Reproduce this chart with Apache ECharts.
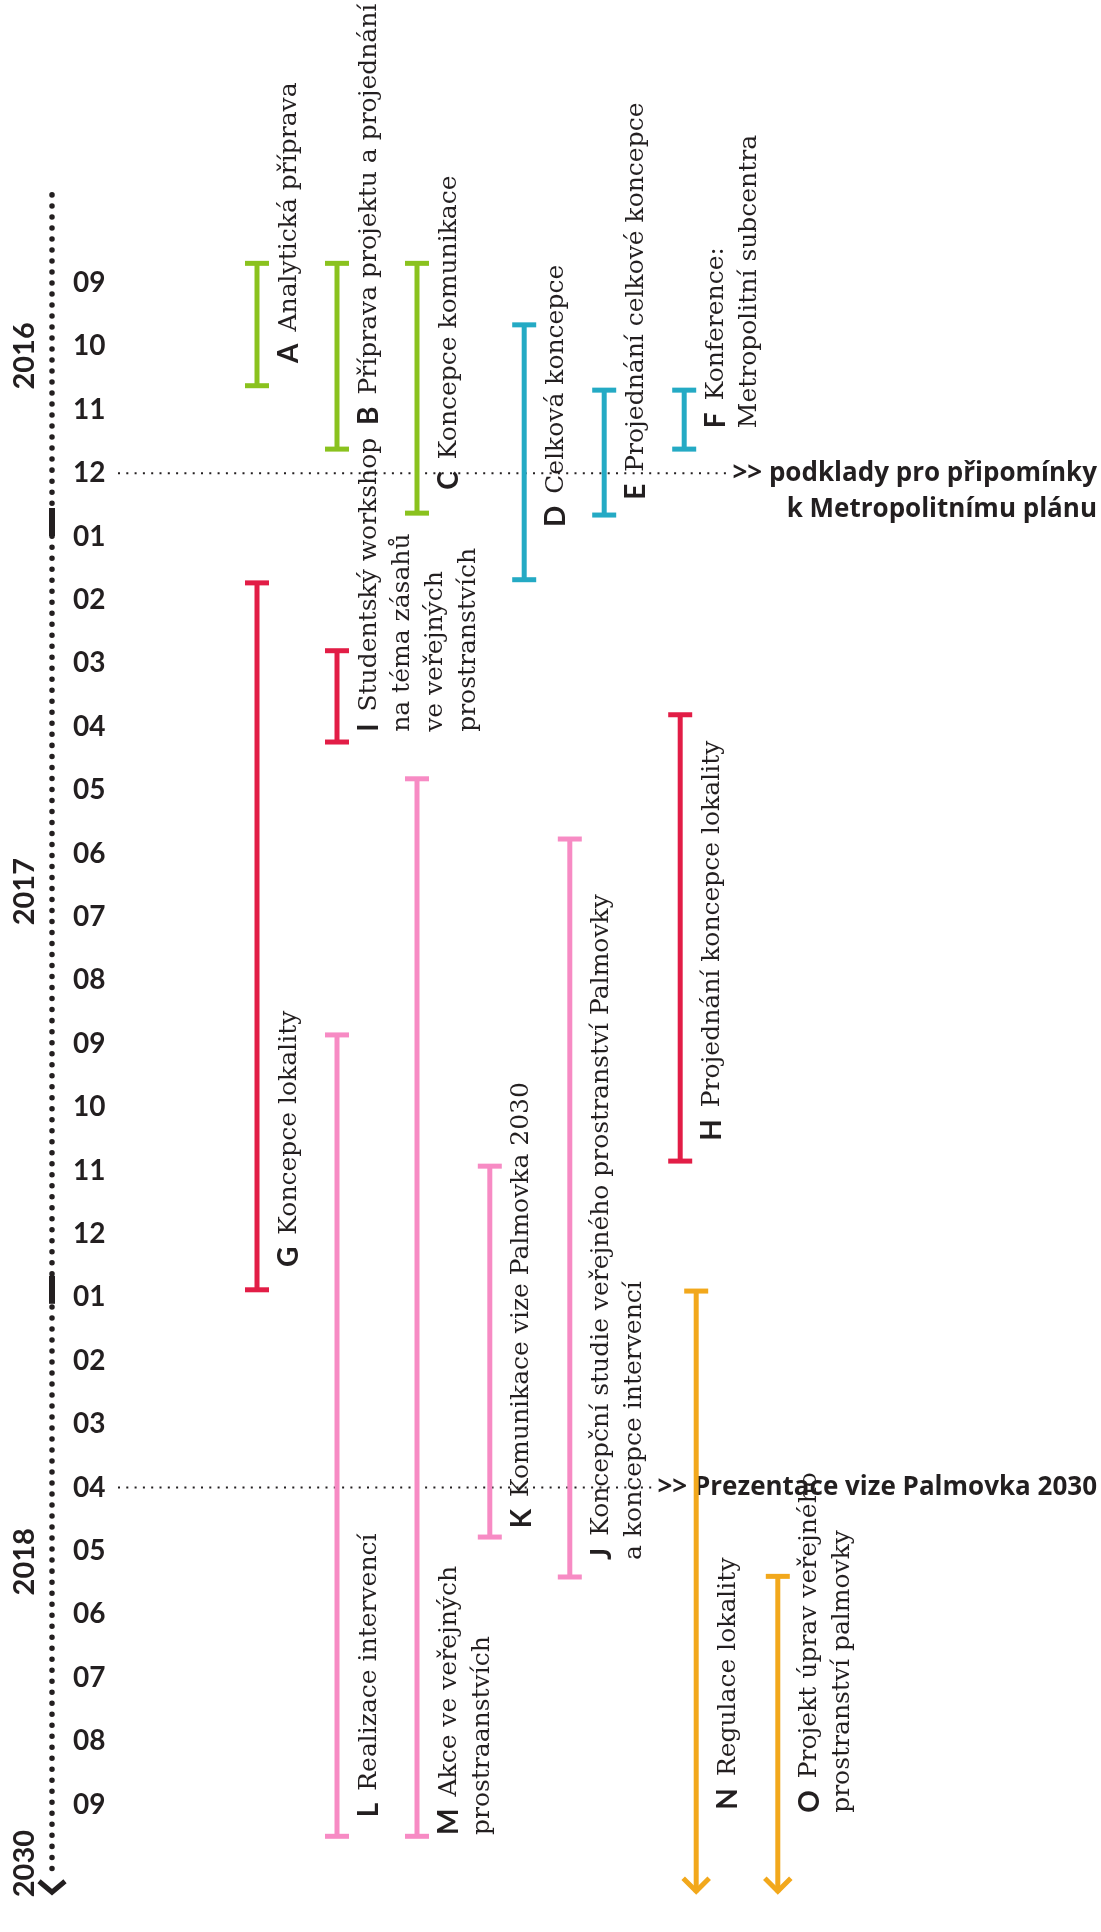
<!DOCTYPE html>
<html><head><meta charset="utf-8">
<script src="https://cdn.jsdelivr.net/npm/echarts@6/dist/echarts.min.js"></script>
<style>html,body{margin:0;padding:0;background:#fff}#c{width:1101px;height:1932px}</style>
</head><body><div id="c"></div>
<script>
// ---------- DATA ----------
const monthLabels = ['09','10','11','12','01','02','03','04','05','06','07','08','09','10','11','12','01','02','03','04','05','06','07','08','09'];
const yearLabels = ['2016','2017','2018','2030'];
const yearLabelPos = [1.15, 9.6, 20.17, 24.93];
const yearBreaks = [3.77, 15.88];
const timelineRange = [-1.39, 25.43];

const barIds    = ['A','B','C','D','E','F','G','H','I','J','K','L','M','N','O'];
const barLanes  = [0, 1, 2, 3.34, 4.34, 5.34, 0, 5.29, 1, 3.91, 2.91, 1, 2, 5.49, 6.51];
const barStart  = [-0.31, -0.31, -0.31, 0.66, 1.69, 1.69, 4.73, 6.81, 5.80, 8.77, 13.93, 11.86, 7.82, 15.90, 20.40];
const barEnd    = [1.62, 2.62, 3.63, 4.68, 3.66, 2.62, 15.88, 13.85, 7.24, 20.41, 19.78, 24.50, 24.50, 25.43, 25.43];
const barGroups = ['green','green','green','teal','teal','teal','red','red','red','pink','pink','pink','pink','orange','orange'];
const barArrow  = [0,0,0,0,0,0,0,0,0,0,0,0,0,1,1];
const labelStart = [1.26, 2.24, 3.26, 3.85, 3.42, 2.29, 15.52, 13.53, 7.08, 20.14, 19.64, 24.20, 24.48, 24.08, 24.13];
const barLabels = [
  ['Analytická příprava'],
  ['Příprava projektu a projednání'],
  ['Koncepce komunikace'],
  ['Celková koncepce'],
  ['Projednání celkové koncepce'],
  ['Konference:', 'Metropolitní subcentra'],
  ['Koncepce lokality'],
  ['Projednání koncepce lokality'],
  ['Studentský workshop', 'na téma zásahů', 've veřejných', 'prostranstvích'],
  ['Koncepční studie veřejného prostranství Palmovky', 'a koncepce intervencí'],
  ['Komunikace vize Palmovka 2030'],
  ['Realizace intervencí'],
  ['Akce ve veřejných', 'prostraanstvích'],
  ['Regulace lokality'],
  ['Projekt úprav veřejného', 'prostranství palmovky']
];
const milestoneMonths = [3, 19];
const milestoneTexts = [
  ['>> podklady pro připomínky', 'k Metropolitnímu plánu'],
  ['>> Prezentace vize Palmovka 2030']
];

// ---------- STYLE / LAYOUT ----------
const COLORS = {green:'#8AC21E', teal:'#24AAC4', red:'#E21D46', pink:'#F78BC4', orange:'#F2A81C'};
const INK = '#231f20';
const SANS = 'Lato, "Open Sans", sans-serif';
const SANS_WIDE = '"Open Sans", Lato, sans-serif';
const SERIF = '"DejaVu Serif", serif';
const LANE0_X = 257, LANE_W = 80, W = 1101;
const Y0 = 283, MONTH_H = 63.4;
const TIMELINE_X = 52, YEAR_X = 25;
const MS_LINE_X0 = 118, MS_LINE_X1 = [732, 652], MS_TEXT_RIGHT = 1097;
const LABEL_LH = 33, LABEL_DX = 32;

const chart = echarts.init(document.getElementById('c'), null, {renderer: 'canvas'});

function renderBar(params, api) {
  const i = params.dataIndex;
  const p1 = api.coord([api.value(0), api.value(1)]);
  const p2 = api.coord([api.value(0), api.value(2)]);
  const color = COLORS[barGroups[i]];
  const st = {stroke: color, lineWidth: 5, fill: null};
  const ch = [
    {type: 'line', shape: {x1: p1[0], y1: p1[1], x2: p2[0], y2: p2[1] - (barArrow[i] ? 3 : 0)}, style: st},
    {type: 'line', shape: {x1: p1[0] - 12, y1: p1[1], x2: p1[0] + 12, y2: p1[1]}, style: st}
  ];
  if (barArrow[i]) {
    ch.push({type: 'polyline', shape: {points: [[p2[0] - 13, p2[1] - 17], [p2[0], p2[1] - 4], [p2[0] + 13, p2[1] - 17]]},
      style: {stroke: color, lineWidth: 5, fill: null, lineJoin: 'miter'}});
  } else {
    ch.push({type: 'line', shape: {x1: p2[0] - 12, y1: p2[1], x2: p2[0] + 12, y2: p2[1]}, style: st});
  }
  return {type: 'group', children: ch};
}

function renderLabel(params, api) {
  const i = params.dataIndex;
  const p = api.coord([api.value(0), api.value(1)]);
  const lines = barLabels[i];
  let text = '{b|' + barIds[i] + '}{r|' + lines[0] + '}';
  for (let k = 1; k < lines.length; k++) text += '\n{r|' + lines[k] + '}';
  return {
    type: 'text', x: p[0] + LABEL_DX - LABEL_LH / 2, y: p[1], rotation: Math.PI / 2,
    style: {
      text: text, align: 'left', verticalAlign: 'top',
      rich: {
        b: {fontFamily: SANS, fontWeight: 'bold', fontSize: 28, fill: INK, lineHeight: LABEL_LH, padding: [0, 12, 0, 0]},
        r: {fontFamily: SERIF, fontSize: 25, fill: INK, lineHeight: LABEL_LH}
      }
    }
  };
}

function renderMilestone(params, api) {
  const i = params.dataIndex;
  const y = api.coord([0, api.value(0)])[1];
  const lines = milestoneTexts[i];
  return {type: 'group', children: [
    {type: 'line', shape: {x1: MS_LINE_X0, y1: y, x2: MS_LINE_X1[i], y2: y},
      style: {stroke: INK, lineWidth: 2, lineDash: [2, 6.3]}},
    {type: 'text', x: MS_TEXT_RIGHT, y: y - 18,
      style: {text: lines.join('\n'), align: 'right', verticalAlign: 'top',
        fontFamily: SANS_WIDE, fontWeight: 'bold', fontSize: 26, lineHeight: 36, fill: INK}}
  ]};
}

function renderTimeline(params, api) {
  const top = api.coord([0, timelineRange[0]])[1];
  const bot = api.coord([0, timelineRange[1]])[1];
  const x = TIMELINE_X;
  const ch = [
    {type: 'line', shape: {x1: x, y1: top, x2: x, y2: bot - 16},
      style: {stroke: INK, lineWidth: 5.5, lineCap: 'round', lineDash: [0.01, 11]}},
    {type: 'polyline', shape: {points: [[x - 13, bot - 14], [x, bot - 3], [x + 13, bot - 14]]},
      style: {stroke: INK, lineWidth: 5, fill: null}}
  ];
  yearBreaks.forEach(function (b) {
    const yb = api.coord([0, b])[1];
    ch.push({type: 'rect', shape: {x: x - 3, y: yb - 14, width: 6, height: 28}, style: {fill: INK}});
  });
  yearLabels.forEach(function (t, k) {
    const yy = api.coord([0, yearLabelPos[k]])[1];
    ch.push({type: 'text', x: YEAR_X, y: yy, rotation: Math.PI / 2,
      style: {text: t, align: 'center', verticalAlign: 'middle', fontFamily: SANS, fontWeight: 'bold', fontSize: 29, fill: INK}});
  });
  return {type: 'group', children: ch};
}

const option = {
  animation: false,
  backgroundColor: '#fff',
  grid: {left: 0, right: 0, top: Y0 - MONTH_H, bottom: 1932 - (Y0 + 26 * MONTH_H), containLabel: false},
  xAxis: {type: 'value', min: -LANE0_X / LANE_W, max: (W - LANE0_X) / LANE_W, show: false},
  yAxis: {
    type: 'value', inverse: true, min: -1, max: 26, interval: 1,
    axisLine: {show: false}, axisTick: {show: false}, splitLine: {show: false},
    axisLabel: {
      inside: true, margin: 73, color: INK, fontFamily: SANS, fontWeight: 'bold', fontSize: 28,
      formatter: function (v) { return monthLabels[v] !== undefined ? monthLabels[v] : ''; }
    }
  },
  series: [
    {type: 'custom', name: 'timeline', renderItem: renderTimeline, data: [[0, 0]], silent: true},
    {type: 'custom', name: 'milestones', renderItem: renderMilestone, data: milestoneMonths.map(function (m) { return [m]; }), silent: true},
    {type: 'custom', name: 'bars', renderItem: renderBar, encode: {x: 0, y: [1, 2]},
      data: barIds.map(function (id, i) { return [barLanes[i], barStart[i], barEnd[i]]; })},
    {type: 'custom', name: 'labels', renderItem: renderLabel, encode: {x: 0, y: 1},
      data: barIds.map(function (id, i) { return [barLanes[i], labelStart[i]]; }), silent: true}
  ]
};
chart.setOption(option);
</script>
</body></html>
